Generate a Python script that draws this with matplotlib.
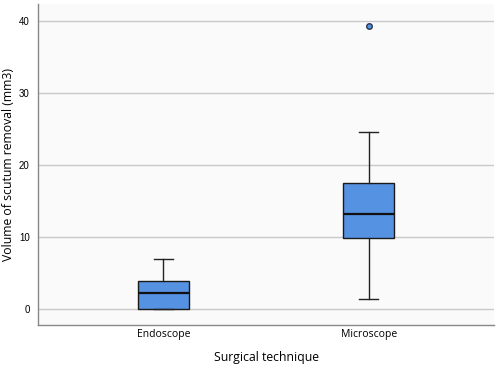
import matplotlib
matplotlib.use("Agg")
from matplotlib import pyplot as plt

# values
groups = ['Endoscope', 'Microscope']
whislo = [0.0, 1.4]
q1 = [0.1, 9.9]
med = [2.2, 13.3]
q3 = [4.0, 17.6]
whishi = [7.0, 24.6]
fliers = [[], [39.3]]
yticks = [0, 10, 20, 30, 40]

stats = []
for i in range(len(groups)):
    stats.append({'label': groups[i], 'whislo': whislo[i], 'q1': q1[i], 'med': med[i],
                  'q3': q3[i], 'whishi': whishi[i], 'fliers': fliers[i]})

fig = plt.figure(figsize=(5, 3.67), dpi=100)
fig.patch.set_facecolor('white')
ax = fig.add_axes([0.076, 0.114, 0.912, 0.875])
ax.set_facecolor('#fafafa')

ax.bxp(stats, positions=[0, 1], widths=0.25, patch_artist=True, showfliers=True,
       boxprops=dict(facecolor='#5692e2', edgecolor='#1a1a1a', linewidth=1.0),
       medianprops=dict(color='#111111', linewidth=1.6),
       whiskerprops=dict(color='#222222', linewidth=1.0),
       capprops=dict(color='#222222', linewidth=1.0),
       capwidths=0.093,
       flierprops=dict(marker='o', markersize=4, markerfacecolor='#5692e2',
                       markeredgecolor='#2a3550', markeredgewidth=1.0))

ax.set_xlim(-0.61, 1.61)
ax.set_ylim(-2.2, 42.4)
ax.set_yticks(yticks)
ax.yaxis.grid(True, color='#c8c8c8', linewidth=1.0)
ax.set_axisbelow(True)
ax.tick_params(length=0, labelsize=7, pad=6)
for lbl in ax.get_yticklabels():
    lbl.set_family('Liberation Sans')
for lbl in ax.get_xticklabels():
    lbl.set_family('Open Sans')
    lbl.set_fontsize(7.5)
ax.tick_params(axis='x', pad=3)

for s in ['top', 'right']:
    ax.spines[s].set_visible(False)
for s in ['left', 'bottom']:
    ax.spines[s].set_color('#888888')
    ax.spines[s].set_linewidth(1.0)

ax.set_xlabel('Surgical technique', fontsize=8.8, family='Open Sans', labelpad=8)
ax.set_ylabel('Volume of scutum removal (mm3)', fontsize=8.8, family='Open Sans', labelpad=3)

fig.savefig('out.png', dpi=100)
